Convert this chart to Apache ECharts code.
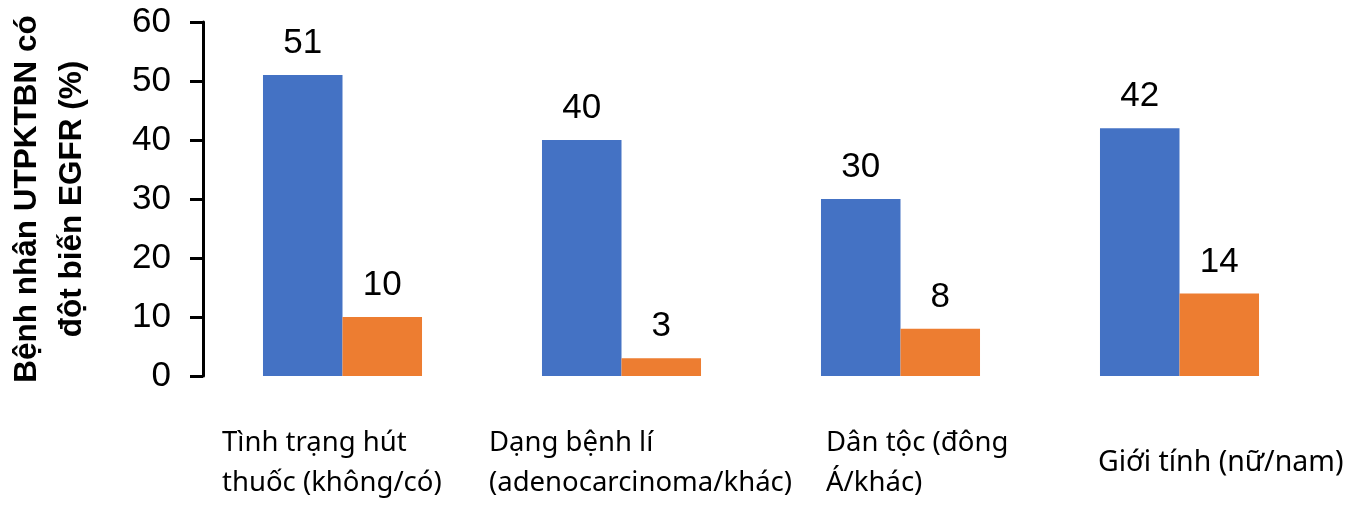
<!DOCTYPE html>
<html>
<head>
<meta charset="utf-8">
<script src="https://cdn.jsdelivr.net/npm/echarts@6/dist/echarts.min.js"></script>
<style>
html,body{margin:0;padding:0;background:#fff;}
#chart{width:1352px;height:505px;}
</style>
</head>
<body>
<div id="chart"></div>
<script>
// ---- data ----
var categoryLines = [
  ['Tình trạng hút', 'thuốc (không/có)'],
  ['Dạng bệnh lí', '(adenocarcinoma/khác)'],
  ['Dân tộc (đông', 'Á/khác)'],
  ['Giới tính (nữ/nam)']
];
var seriesA = [51, 40, 30, 42];   // không / adenocarcinoma / đông Á / nữ
var seriesB = [10, 3, 8, 14];     // có / khác / khác / nam
var yTicks = [0, 10, 20, 30, 40, 50, 60];
var yTitle = 'Bệnh nhân UTPKTBN có\nđột biến EGFR (%)';

// ---- style (layout only) ----
var labelFont = 'Noto Sans';
var catRich = {
  g0: { width: 240, padding: [0, 1, 0, 0], align: 'left' },
  g1: { width: 310, padding: [0, 0, 0, 45], align: 'left' },
  g2: { width: 190, padding: [0, 0, 0, 41], align: 'left' },
  g3: { width: 250, padding: [0, 0, 0, 87], align: 'left' }
};
Object.keys(catRich).forEach(function (k) {
  catRich[k].fontFamily = labelFont;
  catRich[k].fontSize = 27.5;
  catRich[k].lineHeight = 40;
  catRich[k].color = '#000';
});
catRich.g3.fontSize = 28.5;

var categories = categoryLines.map(function (l) { return l.join('\n'); });

var chart = echarts.init(document.getElementById('chart'));
chart.setOption({
  animation: false,
  backgroundColor: '#fff',
  grid: { left: 203, right: 33, top: 22, bottom: 129, containLabel: false, outerBoundsMode: 'none' },
  xAxis: {
    type: 'category',
    data: categories,
    axisLine: { show: false },
    axisTick: { show: false },
    axisLabel: {
      interval: 0,
      margin: 87,
      verticalAlign: 'middle',
      formatter: function (val, idx) {
        return val.split('\n').map(function (s) { return '{g' + idx + '|' + s + '}'; }).join('\n');
      },
      rich: catRich
    }
  },
  yAxis: {
    type: 'value',
    min: yTicks[0],
    max: yTicks[yTicks.length - 1],
    interval: 10,
    splitLine: { show: false },
    axisLine: { show: true, lineStyle: { color: '#000', width: 3 } },
    axisTick: { show: true, inside: false, length: 13, lineStyle: { color: '#000', width: 3 } },
    axisLabel: { margin: 32, color: '#000', fontFamily: 'Liberation Sans', fontSize: 35 },
    name: yTitle,
    nameLocation: 'middle',
    nameGap: 108,
    nameTextStyle: { fontFamily: 'Liberation Sans', fontWeight: 'bold', fontSize: 31.5, lineHeight: 45, color: '#000' }
  },
  series: [
    {
      type: 'bar', data: seriesA, barGap: '0%', barCategoryGap: '43%',
      itemStyle: { color: '#4472C4' },
      label: { show: true, position: 'top', distance: 14, color: '#000', fontFamily: 'Liberation Sans', fontSize: 35 }
    },
    {
      type: 'bar', data: seriesB, barGap: '0%', barCategoryGap: '43%',
      itemStyle: { color: '#ED7D31' },
      label: { show: true, position: 'top', distance: 14, color: '#000', fontFamily: 'Liberation Sans', fontSize: 35 }
    }
  ]
});
</script>
</body>
</html>
